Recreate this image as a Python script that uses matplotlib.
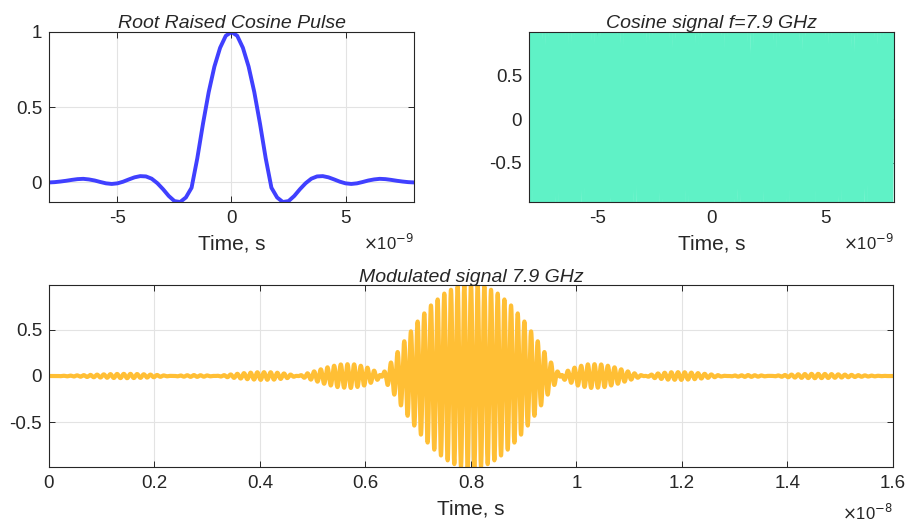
import numpy as np
import matplotlib
matplotlib.use("Agg")
import matplotlib.pyplot as plt
from matplotlib.ticker import FuncFormatter

plt.rcParams['font.family'] = ['Liberation Sans', 'DejaVu Sans']
plt.rcParams['axes.unicode_minus'] = False

# ---- data ----
# Root raised cosine pulse, time in ns
pulse_t_ns = [-8.0, -7.75, -7.5, -7.25, -7.0, -6.75, -6.5, -6.25, -6.0, -5.75, -5.5, -5.25,
              -5.0, -4.75, -4.5, -4.25, -4.0, -3.75, -3.5, -3.25, -3.0, -2.75, -2.5, -2.25,
              -2.0, -1.75, -1.5, -1.25, -1.0, -0.75, -0.5, -0.25, 0.0,
              0.25, 0.5, 0.75, 1.0, 1.25, 1.5, 1.75, 2.0, 2.25, 2.5, 2.75, 3.0,
              3.25, 3.5, 3.75, 4.0, 4.25, 4.5, 4.75, 5.0, 5.25, 5.5, 5.75, 6.0,
              6.25, 6.5, 6.75, 7.0, 7.25, 7.5, 7.75, 8.0]
pulse_amp = [0.0, 0.002, 0.006, 0.011, 0.017, 0.022, 0.024, 0.020, 0.013, 0.003, -0.006, -0.010,
             -0.006, 0.005, 0.020, 0.034, 0.042, 0.040, 0.025, -0.005, -0.045, -0.090, -0.124, -0.130,
             -0.100, -0.035, 0.160, 0.390, 0.600, 0.770, 0.895, 0.975, 1.0,
             0.975, 0.895, 0.770, 0.600, 0.390, 0.160, -0.035, -0.100, -0.130, -0.124, -0.090, -0.045,
             -0.005, 0.025, 0.040, 0.042, 0.034, 0.020, 0.005, -0.006, -0.010, -0.006, 0.003, 0.013,
             0.020, 0.024, 0.022, 0.017, 0.011, 0.006, 0.002, 0.0]

carrier_freq_hz = 7.9e9          # from the title "f=7.9 GHz"
time_start_s = -8e-9
time_stop_s = 8e-9
sample_step_s = 1e-12
modulated_offset_s = 8e-9        # modulated plot runs 0 .. 1.6e-8 s

top_xticks = [-5e-9, 0, 5e-9]
top_left_yticks = [0, 0.5, 1]
top_right_yticks = [-0.5, 0, 0.5]
bottom_xticks = [0, 0.2e-8, 0.4e-8, 0.6e-8, 0.8e-8, 1.0e-8, 1.2e-8, 1.4e-8, 1.6e-8]
bottom_yticks = [-0.5, 0, 0.5]

# ---- derived signals ----
t_pulse = np.array(pulse_t_ns) * 1e-9
p_pulse = np.array(pulse_amp)
t = np.arange(time_start_s, time_stop_s + sample_step_s / 2, sample_step_s)
carrier = np.cos(2 * np.pi * carrier_freq_hz * t)
envelope = np.interp(t, t_pulse, p_pulse)
modulated = envelope * carrier

# ---- styling ----
BLUE = '#4040ff'
TEAL = '#5ff2c6'
ORANGE = '#ffbf35'
DARK = '#262626'
GRID = '#e3e3e3'
FS = 13.5
FS_LABEL = 15
FS_TITLE = 14

W, H = 909, 524
fig = plt.figure(figsize=(W / 100, H / 100), dpi=100)

def px_axes(l, t_, r, b):
    return fig.add_axes([l / W, 1 - b / H, (r - l) / W, (b - t_) / H])

def style(ax):
    for s in ax.spines.values():
        s.set_color(DARK)
        s.set_linewidth(0.8)
    ax.tick_params(direction='in', length=4, width=0.7, color=DARK,
                   labelcolor=DARK, labelsize=FS, top=True, right=True)
    ax.tick_params(axis='x', pad=6)
    ax.tick_params(axis='y', pad=5)
    ax.grid(True, color=GRID, linewidth=0.8)
    ax.set_axisbelow(True)

fmt9 = FuncFormatter(lambda v, pos: '%g' % round(v / 1e-9, 6))
fmt8 = FuncFormatter(lambda v, pos: '%g' % round(v / 1e-8, 6))
fmty = FuncFormatter(lambda v, pos: '%g' % v)

# top-left: pulse
ax1 = px_axes(49, 32, 414, 202)
style(ax1)
ax1.plot(t_pulse, p_pulse, color=BLUE, lw=2.8, solid_capstyle='round', solid_joinstyle='round')
ax1.set_xlim(time_start_s, time_stop_s)
ax1.set_ylim(min(pulse_amp), 1.0)
ax1.set_xticks(top_xticks)
ax1.set_yticks(top_left_yticks)
ax1.xaxis.set_major_formatter(fmt9)
ax1.yaxis.set_major_formatter(fmty)
ax1.set_title('Root Raised Cosine Pulse', fontsize=FS_TITLE, style='italic', color=DARK, pad=3)
ax1.set_xlabel('Time, s', fontsize=FS_LABEL, color=DARK, labelpad=5)
ax1.text(1.0, -0.18, '$\\times$10$^{-9}$', transform=ax1.transAxes, ha='right', va='top',
         fontsize=12, color=DARK)

# top-right: carrier
ax2 = px_axes(529, 32, 894, 202)
style(ax2)
ax2.plot(t, carrier, color=TEAL, lw=1.7)
ax2.set_xlim(time_start_s, time_stop_s)
ax2.set_ylim(-0.95, 1.0)
ax2.set_xticks(top_xticks)
ax2.set_yticks(top_right_yticks)
ax2.xaxis.set_major_formatter(fmt9)
ax2.yaxis.set_major_formatter(fmty)
ax2.set_title('Cosine signal f=7.9 GHz', fontsize=FS_TITLE, style='italic', color=DARK, pad=3)
ax2.set_xlabel('Time, s', fontsize=FS_LABEL, color=DARK, labelpad=5)
ax2.text(1.0, -0.18, '$\\times$10$^{-9}$', transform=ax2.transAxes, ha='right', va='top',
         fontsize=12, color=DARK)

# bottom: modulated
ax3 = px_axes(49, 285, 893, 467)
style(ax3)
ax3.plot(t + modulated_offset_s, modulated, color=ORANGE, lw=3.0)
ax3.set_xlim(0, 1.6e-8)
ax3.set_ylim(-0.985, 0.985)
ax3.set_xticks(bottom_xticks)
ax3.set_yticks(bottom_yticks)
ax3.xaxis.set_major_formatter(fmt8)
ax3.yaxis.set_major_formatter(fmty)
ax3.set_title('Modulated signal 7.9 GHz', fontsize=FS_TITLE, style='italic', color=DARK, pad=2)
ax3.set_xlabel('Time, s', fontsize=FS_LABEL, color=DARK, labelpad=5)
ax3.text(1.0, -0.2, '$\\times$10$^{-8}$', transform=ax3.transAxes, ha='right', va='top',
         fontsize=12, color=DARK)

fig.savefig('out.png', dpi=100)
